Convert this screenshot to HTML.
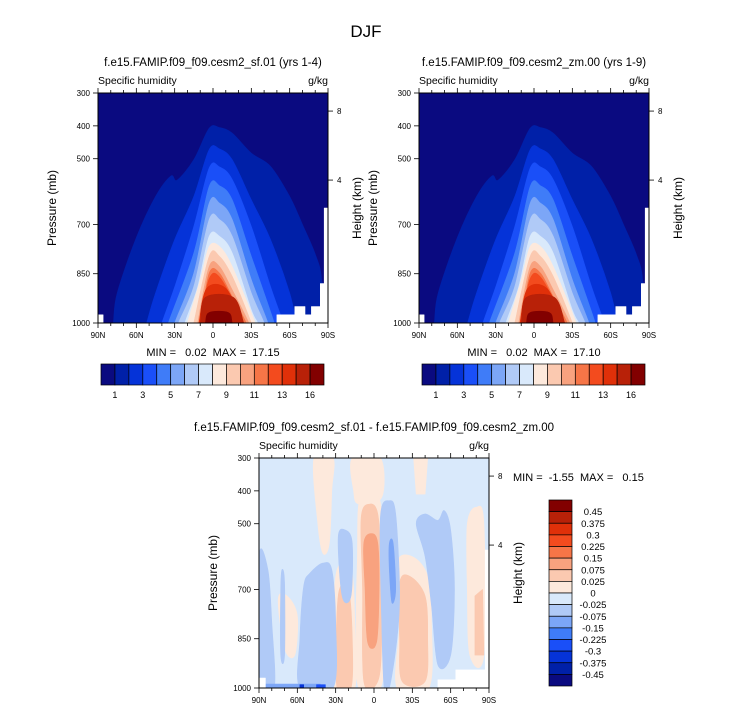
<!DOCTYPE html>
<html><head><meta charset="utf-8"><style>
html,body{margin:0;padding:0;background:#fff;}
svg{display:block;font-family:"Liberation Sans",Arial,sans-serif;}
text{white-space:pre;}
</style></head><body>
<svg id="c" width="733" height="712" viewBox="0 0 733 712" xmlns="http://www.w3.org/2000/svg">
<text x="366" y="37" font-size="17" text-anchor="middle">DJF</text>
</svg>
<script>
const palette=["#0a0a80","#0020a8","#0533d8","#1a4ff8","#3f7cf8","#7ca6f7","#b0caf7","#d9e9fb","#fde9dc","#fbc9b0","#f8a27f","#f67547","#f34b1e","#e03009","#b82108","#820000"];
const topTicks=["1","3","5","7","9","11","13","16"];
const diffTicks=["0.45","0.375","0.3","0.225","0.15","0.075","0.025","0","-0.025","-0.075","-0.15","-0.225","-0.3","-0.375","-0.45"];
const latTicks=[90,60,30,0,-30,-60,-90];
const latLabels=["90N","60N","30N","0","30S","60S","90S"];
const pTicks=[300,400,500,700,850,1000];
const hTicks=[8,4];
const hPress=[355,565];
const levels=[
[[80,1040],[78,1000],[75,909],[60,740],[45,615],[33,553],[28,565],[15,503],[3,407],[-5,405],[-15,422],[-30,483],[-45,523],[-60,615],[-70,700],[-80,790],[-85,868],[-85,1040]],
[[55,1040],[52,1000],[45,909],[30,746],[15,615],[3,472],[-5,470],[-15,503],[-30,625],[-45,746],[-60,909],[-65,1000],[-67,1040]],
[[42,1040],[40,1000],[30,890],[15,706],[3,528],[-5,525],[-15,563],[-30,706],[-45,889],[-55,1000],[-57,1040]],
[[37,1040],[35,1000],[15,787],[3,584],[-5,582],[-15,625],[-30,797],[-48,1000],[-50,1040]],
[[32,1040],[30,1000],[15,848],[3,635],[-5,635],[-15,685],[-30,868],[-43,1000],[-45,1040]],
[[29,1040],[27,1000],[15,889],[3,685],[-5,685],[-15,736],[-30,909],[-40,1000],[-42,1040]],
[[24,1040],[22,1000],[12,890],[3,736],[-5,736],[-15,787],[-30,960],[-35,1000],[-37,1040]],
[[22,1040],[20,1000],[10,870],[3,767],[-5,767],[-15,828],[-33,1000],[-35,1040]],
[[17,1040],[15,1000],[3,797],[-5,797],[-15,858],[-30,1000],[-32,1040]],
[[14,1040],[12,1000],[3,828],[-5,828],[-15,899],[-28,1000],[-30,1040]],
[[12,1040],[10,1000],[3,848],[-5,848],[-15,920],[-26,1000],[-28,1040]],
[[12,1040],[10,1000],[3,865],[-6,865],[-24,1000],[-26,1040]],
[[13,1040],[11,1000],[5,895],[-10,895],[-24,1000],[-26,1040]],
[[12,1040],[10,1000],[6,922],[-16,922],[-24,1000],[-26,1040]],
[[8,1040],[6,1000],[3,968],[-12,968],[-15,1000],[-17,1040]]
];
const topMissing=[
[[90,975],[86,975],[86,1000],[90,1000]],
[[-50,975],[-90,975],[-90,1000],[-50,1000]],
[[-64,950],[-72,950],[-72,1000],[-64,1000]],
[[-77,950],[-90,950],[-90,1000],[-77,1000]],
[[-84,880],[-90,880],[-90,1000],[-84,1000]],
[[-87,650],[-90,650],[-90,1000],[-87,1000]]
];
const diffRegions=[
["#fde9dc",[[47,300],[32,300],[33,400],[35,560],[40,590],[44,500]]],
["#fde9dc",[[17,300],[-5,300],[-6,420],[12,440],[16,400]]],
["#fde9dc",[[-31,300],[-42,300],[-40,410],[-33,410]]],
["#fde9dc",[[12,440],[5,400],[-4,420],[-7,550],[-8,850],[-5,1000],[12,1000],[14,800],[13,600]]],
["#fde9dc",[[-18,620],[-30,600],[-42,660],[-45,800],[-43,1000],[-18,1000],[-20,800]]],
["#fde9dc",[[30,660],[18,640],[15,800],[15,1000],[31,1000]]],
["#fde9dc",[[75,730],[68,720],[60,780],[62,900],[70,880]]],
["#fde9dc",[[-73,500],[-80,450],[-86,500],[-86,900],[-75,900],[-73,700]]],
["#fbc9b0",[[10,480],[3,440],[-3,470],[-5,600],[-6,850],[-3,980],[8,980],[9,700]]],
["#f8a27f",[[8,560],[2,530],[-3,560],[-4,700],[-2,860],[5,860],[7,700]]],
["#fbc9b0",[[-20,680],[-28,660],[-40,720],[-42,850],[-40,980],[-22,980],[-20,850]]],
["#fbc9b0",[[28,720],[20,700],[17,850],[18,1000],[29,1000]]],
["#fbc9b0",[[-79,720],[-85,700],[-86,900],[-79,900]]],
["#b0caf7",[[90,600],[83,640],[80,800],[78,1000],[90,1000]]],
["#b0caf7",[[55,690],[50,650],[40,620],[33,640],[30,800],[32,1000],[58,1000],[58,850]]],
["#b0caf7",[[28,540],[22,520],[17,560],[18,720],[25,720]]],
["#b0caf7",[[-5,480],[-12,430],[-17,470],[-20,700],[-18,850],[-12,1000],[-8,1000],[-6,800]]],
["#7ca6f7",[[-12,560],[-15,560],[-17,700],[-14,740],[-12,640]]],
["#b0caf7",[[-33,500],[-40,470],[-50,490],[-55,460],[-60,520],[-63,700],[-60,900],[-50,930],[-45,750],[-40,600]]],
["#b0caf7",[[73,700],[72,640],[70,680],[70,900],[73,900]]],
["#7ca6f7",[[87,988],[42,988],[42,1000],[87,1000]]],
["#0533d8",[[58,990],[55,990],[55,1000],[58,1000]]],
["#1a4ff8",[[45,990],[38,990],[38,1000],[45,1000]]],
["#ffffff",[[90,970],[85,970],[85,1000],[90,1000]]],
["#ffffff",[[-50,975],[-90,975],[-90,1000],[-50,1000]]],
["#ffffff",[[-64,945],[-90,945],[-90,1000],[-64,1000]]],
["#ffffff",[[-87,580],[-90,580],[-90,1000],[-87,1000]]]
];
const NS="http://www.w3.org/2000/svg";
const svg=document.getElementById('c');
function mk(tag,attrs,parent){const e=document.createElementNS(NS,tag);for(const k in attrs)e.setAttribute(k,attrs[k]);(parent||svg).appendChild(e);return e;}
function txt(x,y,s,size,anchor,parent,rot){const t=mk('text',{x:x,y:y,'font-size':size,'text-anchor':anchor||'start'},parent);if(rot)t.setAttribute('transform','rotate(-90 '+x+' '+y+')');t.textContent=s;return t;}
function smoothPath(P){
  const n=P.length;let d='M'+P[0][0].toFixed(1)+' '+P[0][1].toFixed(1);
  for(let i=0;i<n;i++){
    const p0=P[(i-1+n)%n],p1=P[i],p2=P[(i+1)%n],p3=P[(i+2)%n];
    const c1=[p1[0]+(p2[0]-p0[0])/6,p1[1]+(p2[1]-p0[1])/6];
    const c2=[p2[0]-(p3[0]-p1[0])/6,p2[1]-(p3[1]-p1[1])/6];
    d+=' C'+c1[0].toFixed(1)+' '+c1[1].toFixed(1)+' '+c2[0].toFixed(1)+' '+c2[1].toFixed(1)+' '+p2[0].toFixed(1)+' '+p2[1].toFixed(1);
  }
  return d+'Z';
}
const W=230,H=230;let clipN=0;
function panel(x0,y0,name,title,bg,fills,minmax){
  const g=mk('g',{});
  
  
  const X=lat=>x0+(90-lat)/180*W, Y=p=>y0+(p-300)/700*H;
  const t=txt(x0+W/2,y0-27,title,11.5,'middle',g);
  
  
  const s=txt(x0,y0-9,'Specific humidity',10.5,'start',g);
  
  
  const u=txt(x0+W,y0-9,'g/kg',10.5,'end',g);
  
  
  const cid='clip'+(clipN++);
  const cp=mk('clipPath',{id:cid},g);mk('rect',{x:x0,y:y0,width:W,height:H},cp);
  const fg=mk('g',{'clip-path':'url(#'+cid+')'},g);
  const r=mk('rect',{x:x0,y:y0,width:W,height:H,fill:bg},fg);
  
  
  fills.forEach((f,i)=>{
    const pts=f[1].map(q=>[X(q[0]),Y(q[1])]);
    let d;
    if(f[0]==='#ffffff'||pts.length<5) d=pts.map((q,j)=>(j?'L':'M')+q[0].toFixed(1)+' '+q[1].toFixed(1)).join(' ')+'Z';
    else d=smoothPath(pts);
    const pth=mk('path',{d:d,fill:f[0],stroke:f[0],'stroke-width':0.6,'stroke-linejoin':'round'},fg);
    
    
  });
  mk('rect',{x:x0,y:y0,width:W,height:H,fill:'none',stroke:'#000','stroke-width':1},g);
  for(let lat=90;lat>=-90;lat-=10){
    const maj=lat%30===0, x=X(lat);
    mk('line',{x1:x,x2:x,y1:y0+H,y2:y0+H+(maj?5:3),stroke:'#000','stroke-width':0.8},g);
    mk('line',{x1:x,x2:x,y1:y0,y2:y0-(maj?5:3),stroke:'#000','stroke-width':0.8},g);
  }
  latTicks.forEach((lat,i)=>{const l=txt(X(lat),y0+H+15,latLabels[i],8,'middle',g);
    
    });
  pTicks.forEach(p=>{const y=Y(p);
    mk('line',{x1:x0-5,x2:x0,y1:y,y2:y,stroke:'#000','stroke-width':0.8},g);
    const l=txt(x0-8,y+3,String(p),8,'end',g);
    
    });
  hTicks.forEach((h,i)=>{const y=Y(hPress[i]);
    mk('line',{x1:x0+W,x2:x0+W+5,y1:y,y2:y,stroke:'#000','stroke-width':0.8},g);
    const l=txt(x0+W+9,y+3,String(h),8,'start',g);
    
    });
  const ya=txt(x0-42,y0+H/2,'Pressure (mb)',12,'middle',g,true);
  
  
  const yb=txt(x0+W+33,y0+H/2,'Height (km)',12,'middle',g,true);
  
  
  if(minmax){const m=txt(x0+W/2,y0+H+33,minmax,11,'middle',g);
    
    }
}
function hbar(x0,y0,name){
  const g=mk('g',{});
  
  
  const bw=223/16;
  palette.forEach((c,i)=>{const b=mk('rect',{x:x0+i*bw,y:y0,width:bw,height:21,fill:c,stroke:'#000','stroke-width':0.7},g);
    
    });
  topTicks.forEach((s,i)=>{const l=txt(x0+(2*i+1)*bw,y0+34,s,9,'middle',g);
    
    });
}
const topFills=levels.map((pts,i)=>[palette[i+1],pts]).concat(topMissing.map(p=>['#ffffff',p]));
panel(98,93,'panel-sf01','f.e15.FAMIP.f09_f09.cesm2_sf.01 (yrs 1-4)',palette[0],topFills,'MIN =   0.02  MAX =  17.15');
panel(419,93,'panel-zm00','f.e15.FAMIP.f09_f09.cesm2_zm.00 (yrs 1-9)',palette[0],topFills,'MIN =   0.02  MAX =  17.10');
hbar(101,364,'colorbar-left');
hbar(422,364,'colorbar-right');
panel(259,458,'panel-difference','f.e15.FAMIP.f09_f09.cesm2_sf.01 - f.e15.FAMIP.f09_f09.cesm2_zm.00','#d9e9fb',diffRegions,null);
const mm=txt(513,481,'MIN =  -1.55  MAX =   0.15',11,'start');


const vg=mk('g',{});


const bh=186/16;
palette.slice().reverse().forEach((c,i)=>{const b=mk('rect',{x:549,y:500+i*bh,width:23,height:bh,fill:c,stroke:'#000','stroke-width':0.7},vg);
  
  });
diffTicks.forEach((s,i)=>{const l=txt(593,500+(i+1)*bh+3.5,s,9.5,'middle',vg);
  
  });
</script>
</body></html>
